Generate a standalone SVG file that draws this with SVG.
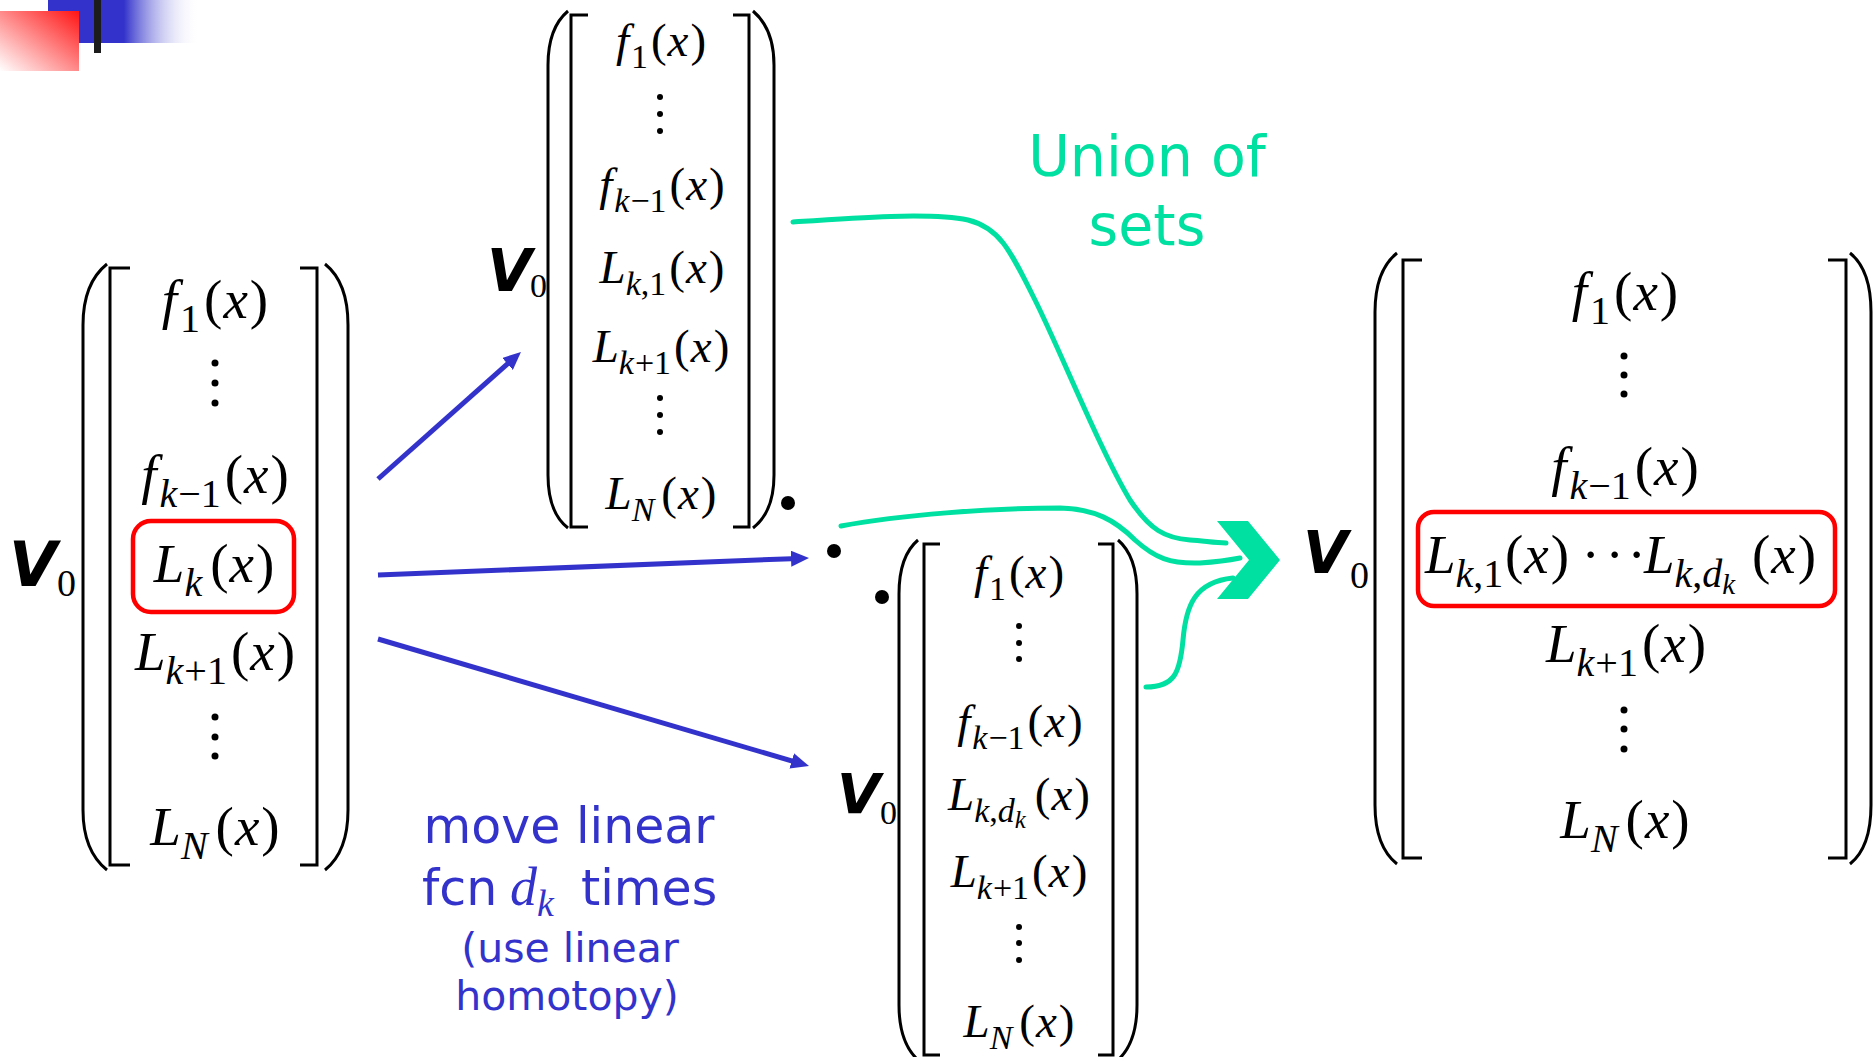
<svg xmlns="http://www.w3.org/2000/svg" width="1876" height="1057" viewBox="0 0 1876 1057">
<style>
text.m { font-family: "Liberation Serif", "Times New Roman", serif; text-anchor: middle; fill: #000; }
.L { font-size: 55px; }
.M { font-size: 47px; }
.i { font-style: italic; }
.L .s { font-size: 40px; }
.M .s { font-size: 34px; }
.L .ss { font-size: 29px; }
.M .ss { font-size: 25px; }
.V { font-family: "DejaVu Sans", sans-serif; font-weight: bold; font-style: italic; font-size: 58px; fill: #000; }
.z { font-family: "Liberation Serif", serif; font-size: 38px; fill: #000; }
.zm { font-size: 34px; }
.br { fill: none; stroke: #000; stroke-width: 3; }
.dot { fill: #000; }
.hl { fill: none; stroke: #FF0000; stroke-width: 4.5; }
.blue { stroke: #3333CC; stroke-width: 5; fill: none; }
.green { stroke: #00E0A0; stroke-width: 5; fill: none; stroke-linecap: round; }
.gt { font-family: "DejaVu Sans", sans-serif; font-size: 57px; fill: #00E0A0; text-anchor: middle; }
.bt { font-family: "DejaVu Sans", sans-serif; fill: #3333CC; }
.bm { font-family: "Liberation Serif", serif; font-style: italic; }
</style>
<defs>
<linearGradient id="gBlue" x1="0" y1="0" x2="1" y2="0">
<stop offset="0" stop-color="#3333CC"/>
<stop offset="0.5" stop-color="#3333CC"/>
<stop offset="1" stop-color="#FFFFFF" stop-opacity="0"/>
</linearGradient>
<linearGradient id="gRed" x1="1" y1="0" x2="0" y2="1">
<stop offset="0" stop-color="#FF1414"/>
<stop offset="1" stop-color="#FFFFFF"/>
</linearGradient>
<marker id="ah" viewBox="0 0 18 16" refX="8" refY="8" markerWidth="18" markerHeight="16" markerUnits="userSpaceOnUse" orient="auto">
<path d="M0,0 L18,8 L0,16 z" fill="#3333CC"/>
</marker>
</defs>

<g id="decoration">
<rect x="48" y="0" width="152" height="43" fill="url(#gBlue)"/>
<rect x="0" y="11" width="79" height="60" fill="url(#gRed)"/>
<rect x="94" y="0" width="7" height="53" fill="#1C1C1C"/>
</g>

<g id="matrix-left">
<text class="V" x="9" y="586" style="font-size:62px">V</text>
<text class="z" x="57" y="596">0</text>
<path class="br" d="M107 264 C92 276 83 296 83 325 V810 C83 838 92 858 107 870"/>
<path class="br" d="M325 264 C340 276 348 296 348 325 V810 C348 838 340 858 325 870"/>
<path class="br" d="M130 268 H110 V865 H130"/>
<path class="br" d="M300 268 H317 V865 H300"/>
<text class="m L" x="215" y="318"><tspan class="i">f</tspan><tspan class="s" dx="3" dy="14">1</tspan><tspan dx="4" dy="-14">(</tspan><tspan class="i" dx="1">x</tspan><tspan dx="2">)</tspan></text>
<circle class="dot" cx="215" cy="363" r="3.5"/>
<circle class="dot" cx="215" cy="383" r="3.5"/>
<circle class="dot" cx="215" cy="403" r="3.5"/>
<text class="m L" x="215" y="493"><tspan class="i">f</tspan><tspan class="s" dx="3" dy="14"><tspan class="i">k</tspan><tspan dx="1">−1</tspan></tspan><tspan dx="4" dy="-14">(</tspan><tspan class="i" dx="1">x</tspan><tspan dx="2">)</tspan></text>
<rect class="hl" x="133" y="521" width="161" height="91" rx="18"/>
<text class="m L" x="214" y="582"><tspan class="i">L</tspan><tspan class="s i" dy="14">k</tspan><tspan dx="8" dy="-14">(</tspan><tspan class="i" dx="1">x</tspan><tspan dx="2">)</tspan></text>
<text class="m L" x="215" y="670"><tspan class="i">L</tspan><tspan class="s" dy="14"><tspan class="i">k</tspan><tspan dx="1">+1</tspan></tspan><tspan dx="4" dy="-14">(</tspan><tspan class="i" dx="1">x</tspan><tspan dx="2">)</tspan></text>
<circle class="dot" cx="215" cy="717" r="3.5"/>
<circle class="dot" cx="215" cy="737" r="3.5"/>
<circle class="dot" cx="215" cy="756" r="3.5"/>
<text class="m L" x="215" y="845"><tspan class="i">L</tspan><tspan class="s i" dy="14">N</tspan><tspan dx="8" dy="-14">(</tspan><tspan class="i" dx="1">x</tspan><tspan dx="2">)</tspan></text>
</g>

<g id="matrix-top">
<text class="V" x="487" y="291">V</text>
<text class="z zm" x="530" y="297">0</text>
<path class="br" d="M568 11 C555 22 548 40 548 65 V475 C548 500 555 518 568 528"/>
<path class="br" d="M753 11 C766 22 774 40 774 65 V475 C774 500 766 518 753 528"/>
<path class="br" d="M588 15 H571 V527 H588"/>
<path class="br" d="M733 15 H749 V527 H733"/>
<text class="m M" x="661" y="56"><tspan class="i">f</tspan><tspan class="s" dx="2" dy="12">1</tspan><tspan dx="3" dy="-12">(</tspan><tspan class="i" dx="1">x</tspan><tspan dx="2">)</tspan></text>
<circle class="dot" cx="660" cy="97" r="3"/>
<circle class="dot" cx="660" cy="114" r="3"/>
<circle class="dot" cx="660" cy="131" r="3"/>
<text class="m M" x="662" y="200"><tspan class="i">f</tspan><tspan class="s" dx="2" dy="12"><tspan class="i">k</tspan><tspan dx="1">−1</tspan></tspan><tspan dx="3" dy="-12">(</tspan><tspan class="i" dx="1">x</tspan><tspan dx="2">)</tspan></text>
<text class="m M" x="662" y="283"><tspan class="i">L</tspan><tspan class="s" dy="12"><tspan class="i">k</tspan>,1</tspan><tspan dx="3" dy="-12">(</tspan><tspan class="i" dx="1">x</tspan><tspan dx="2">)</tspan></text>
<text class="m M" x="661" y="362"><tspan class="i">L</tspan><tspan class="s" dy="12"><tspan class="i">k</tspan><tspan dx="1">+1</tspan></tspan><tspan dx="3" dy="-12">(</tspan><tspan class="i" dx="1">x</tspan><tspan dx="2">)</tspan></text>
<circle class="dot" cx="660" cy="398" r="3"/>
<circle class="dot" cx="660" cy="415" r="3"/>
<circle class="dot" cx="660" cy="432" r="3"/>
<text class="m M" x="661" y="509"><tspan class="i">L</tspan><tspan class="s i" dy="12">N</tspan><tspan dx="7" dy="-12">(</tspan><tspan class="i" dx="1">x</tspan><tspan dx="2">)</tspan></text>
</g>

<g id="product-dots">
<circle class="dot" cx="788" cy="503" r="7"/>
<circle class="dot" cx="834" cy="551" r="7"/>
<circle class="dot" cx="882" cy="597" r="7"/>
</g>

<g id="matrix-bottom">
<text class="V" x="837" y="813" style="font-size:56px">V</text>
<text class="z zm" x="880" y="824">0</text>
<path class="br" d="M918 540 C905 551 899 569 899 594 V1005 C899 1030 905 1048 918 1060"/>
<path class="br" d="M1118 540 C1131 551 1137 569 1137 594 V1005 C1137 1030 1131 1048 1118 1060"/>
<path class="br" d="M940 544 H924 V1055 H940"/>
<path class="br" d="M1098 544 H1113 V1055 H1098"/>
<text class="m M" x="1019" y="588"><tspan class="i">f</tspan><tspan class="s" dx="2" dy="12">1</tspan><tspan dx="3" dy="-12">(</tspan><tspan class="i" dx="1">x</tspan><tspan dx="2">)</tspan></text>
<circle class="dot" cx="1019" cy="626" r="3"/>
<circle class="dot" cx="1019" cy="643" r="3"/>
<circle class="dot" cx="1019" cy="659" r="3"/>
<text class="m M" x="1020" y="737"><tspan class="i">f</tspan><tspan class="s" dx="2" dy="12"><tspan class="i">k</tspan><tspan dx="1">−1</tspan></tspan><tspan dx="3" dy="-12">(</tspan><tspan class="i" dx="1">x</tspan><tspan dx="2">)</tspan></text>
<text class="m M" x="1019" y="810"><tspan class="i">L</tspan><tspan class="s" dy="12"><tspan class="i">k</tspan>,<tspan class="i">d</tspan></tspan><tspan class="ss i" dy="6">k</tspan><tspan dx="9" dy="-18">(</tspan><tspan class="i" dx="1">x</tspan><tspan dx="2">)</tspan></text>
<text class="m M" x="1019" y="887"><tspan class="i">L</tspan><tspan class="s" dy="12"><tspan class="i">k</tspan><tspan dx="1">+1</tspan></tspan><tspan dx="3" dy="-12">(</tspan><tspan class="i" dx="1">x</tspan><tspan dx="2">)</tspan></text>
<circle class="dot" cx="1019" cy="927" r="3"/>
<circle class="dot" cx="1019" cy="943" r="3"/>
<circle class="dot" cx="1019" cy="960" r="3"/>
<text class="m M" x="1019" y="1037"><tspan class="i">L</tspan><tspan class="s i" dy="12">N</tspan><tspan dx="7" dy="-12">(</tspan><tspan class="i" dx="1">x</tspan><tspan dx="2">)</tspan></text>
</g>

<g id="matrix-right">
<text class="V" x="1303" y="573">V</text>
<text class="z" x="1350" y="588">0</text>
<path class="br" d="M1397 253 C1382 265 1375 285 1375 312 V805 C1375 832 1382 852 1397 864"/>
<path class="br" d="M1850 253 C1865 265 1871 285 1871 312 V805 C1871 832 1865 852 1850 864"/>
<path class="br" d="M1422 260 H1403 V858 H1422"/>
<path class="br" d="M1828 260 H1846 V858 H1828"/>
<text class="m L" x="1625" y="310"><tspan class="i">f</tspan><tspan class="s" dx="3" dy="14">1</tspan><tspan dx="4" dy="-14">(</tspan><tspan class="i" dx="1">x</tspan><tspan dx="2">)</tspan></text>
<circle class="dot" cx="1624" cy="356" r="3.5"/>
<circle class="dot" cx="1624" cy="375" r="3.5"/>
<circle class="dot" cx="1624" cy="394" r="3.5"/>
<text class="m L" x="1625" y="485"><tspan class="i">f</tspan><tspan class="s" dx="3" dy="14"><tspan class="i">k</tspan><tspan dx="1">−1</tspan></tspan><tspan dx="4" dy="-14">(</tspan><tspan class="i" dx="1">x</tspan><tspan dx="2">)</tspan></text>
<rect class="hl" x="1418" y="512" width="417" height="94" rx="16"/>
<text class="m L" style="text-anchor:start" y="573"><tspan x="1425" class="i">L</tspan><tspan class="s" dy="14"><tspan class="i">k</tspan>,1</tspan><tspan x="1505" dy="-14">(</tspan><tspan class="i" dx="1">x</tspan><tspan dx="2">)</tspan><tspan x="1581.5 1605.5 1627.5">···</tspan><tspan x="1644" class="i">L</tspan><tspan class="s" dy="14"><tspan class="i">k</tspan>,<tspan class="i">d</tspan></tspan><tspan class="ss i" dy="7">k</tspan><tspan x="1752" dy="-21">(</tspan><tspan class="i" dx="1">x</tspan><tspan dx="2">)</tspan></text>
<text class="m L" x="1626" y="662"><tspan class="i">L</tspan><tspan class="s" dy="14"><tspan class="i">k</tspan><tspan dx="1">+1</tspan></tspan><tspan dx="4" dy="-14">(</tspan><tspan class="i" dx="1">x</tspan><tspan dx="2">)</tspan></text>
<circle class="dot" cx="1624" cy="710" r="3.5"/>
<circle class="dot" cx="1624" cy="729" r="3.5"/>
<circle class="dot" cx="1624" cy="749" r="3.5"/>
<text class="m L" x="1625" y="838"><tspan class="i">L</tspan><tspan class="s i" dy="14">N</tspan><tspan dx="8" dy="-14">(</tspan><tspan class="i" dx="1">x</tspan><tspan dx="2">)</tspan></text>
</g>

<g id="connectors">
<line class="blue" x1="378" y1="479" x2="513.5" y2="358.6" marker-end="url(#ah)"/>
<line class="blue" x1="378" y1="575" x2="799" y2="558.4" marker-end="url(#ah)"/>
<line class="blue" x1="378" y1="639" x2="799.4" y2="763.2" marker-end="url(#ah)"/>
<path class="green" d="M793 222 C850 218 930 212 968 220 C1000 228 1010 250 1035 300 C1060 350 1100 450 1130 500 C1150 530 1165 538 1190 540 C1205 541 1215 543 1226 543"/>
<path class="green" d="M841 526 C900 515 990 508 1060 508 C1095 509 1115 520 1135 540 C1155 558 1170 564 1200 563 C1215 562 1230 560 1240 558"/>
<path class="green" d="M1146 687 C1175 687 1180 672 1183 640 C1186 605 1195 582 1233 578"/>
<polygon points="1217,521 1248,521 1280,560 1248,599 1217,599 1249,560" fill="#00E0A0"/>
</g>

<g id="label-union">
<text class="gt" x="1147" y="176">Union of</text>
<text class="gt" x="1147" y="245">sets</text>
</g>

<g id="label-move">
<text class="bt" x="569" y="843" style="font-size:49px;text-anchor:middle">move linear</text>
<text class="bt" y="905" style="font-size:49px"><tspan x="422">fcn</tspan><tspan x="510" class="bm" style="font-size:54px">d</tspan><tspan class="bm" dy="11" style="font-size:38px">k</tspan><tspan x="581" dy="-11">times</tspan></text>
<text class="bt" x="570" y="962" style="font-size:41px;text-anchor:middle">(use linear</text>
<text class="bt" x="567" y="1010" style="font-size:41px;text-anchor:middle">homotopy)</text>
</g>
</svg>
